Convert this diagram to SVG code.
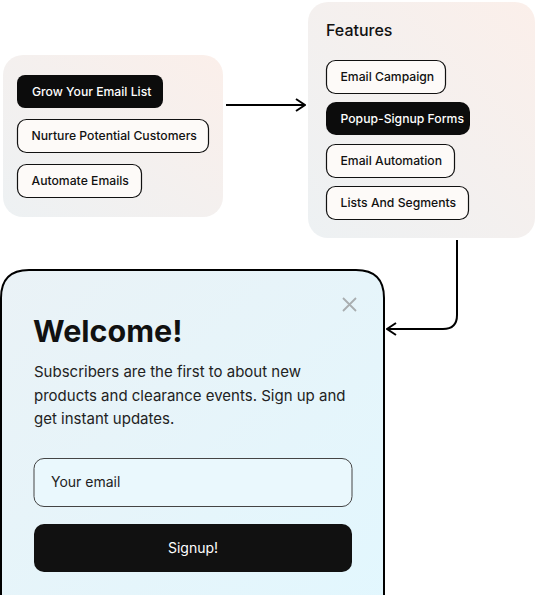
<svg xmlns="http://www.w3.org/2000/svg" width="537" height="595" viewBox="0 0 537 595">
<defs>
<linearGradient id="panelGrad" x1="1" y1="0" x2="0" y2="1">
<stop offset="0" stop-color="#fbefea"/>
<stop offset="1" stop-color="#edf1f3"/>
</linearGradient>
<linearGradient id="cardGrad" x1="0" y1="0" x2="1" y2="1">
<stop offset="0" stop-color="#eaf2f6"/>
<stop offset="1" stop-color="#e2f7fe"/>
</linearGradient>
<marker id="arrow" viewBox="0 0 12 14" refX="11" refY="7" markerWidth="12" markerHeight="14" markerUnits="userSpaceOnUse" orient="auto">
<path d="M2,1 L11,7 L2,13" fill="none" stroke="#000" stroke-width="2"/>
</marker>
<style>
text{font-family:Inter,"Liberation Sans",sans-serif;}
.chip{fill:#fdfaf8;stroke:#111;stroke-width:1.2;}
.chipDark{fill:#0c0c0c;}
.chipText{font-size:12.2px;font-weight:450;fill:#111;}
.chipTextDark{font-size:12.2px;font-weight:450;fill:#fff;}
.conn{fill:none;stroke:#000;stroke-width:2;}
.dots{stroke:#111;stroke-width:1.5;stroke-dasharray:2,2;}
</style>
</defs>
<rect width="537" height="595" fill="#fff"/>
<g id="connectors">
<line class="conn" x1="226" y1="105" x2="305" y2="105" marker-end="url(#arrow)"/>
<path class="conn" d="M457,240 L457,315 Q457,329 443,329 L387,329" marker-end="url(#arrow)"/>
<line class="dots" x1="30" y1="109" x2="30" y2="119"/>
<line class="dots" x1="31" y1="153" x2="31" y2="164"/>
</g>
<g id="goals">
<rect x="3" y="55" width="220" height="162" rx="20" fill="url(#panelGrad)"/>
<g id="goal-grow">
<rect class="chipDark" x="17" y="75" width="146" height="33" rx="8"/>
<text class="chipTextDark" x="32" y="96">Grow Your Email List</text>
</g>
<g id="goal-nurture">
<rect class="chip" x="17.5" y="119.5" width="191" height="33" rx="9"/>
<text class="chipText" x="31.5" y="140">Nurture Potential Customers</text>
</g>
<g id="goal-automate">
<rect class="chip" x="17.5" y="164.5" width="124" height="33" rx="9"/>
<text class="chipText" x="31.5" y="185">Automate Emails</text>
</g>
</g>
<g id="features">
<rect x="308" y="2" width="227" height="236" rx="20" fill="url(#panelGrad)"/>
<text x="326" y="36" font-size="16" font-weight="450" fill="#111">Features</text>
<g id="feat-campaign">
<rect class="chip" x="326.5" y="60.5" width="119" height="33" rx="9"/>
<text class="chipText" x="340.5" y="81">Email Campaign</text>
</g>
<g id="feat-popup">
<rect class="chipDark" x="326" y="102" width="144" height="33" rx="10" fill="#111"/>
<text class="chipTextDark" x="340.5" y="123">Popup-Signup Forms</text>
</g>
<g id="feat-automation">
<rect class="chip" x="326.5" y="144.5" width="128" height="33" rx="9"/>
<text class="chipText" x="340.5" y="165">Email Automation</text>
</g>
<g id="feat-lists">
<rect class="chip" x="326.5" y="186.5" width="142" height="33" rx="9"/>
<text class="chipText" x="340.5" y="207">Lists And Segments</text>
</g>
</g>
<g id="popup">
<path d="M1,620 L1,298 Q1,270 29,270 L356,270 Q384,270 384,298 L384,620" fill="url(#cardGrad)" stroke="#000" stroke-width="2"/>
<path d="M343,298 L356,311 M356,298 L343,311" stroke="#a9aeb0" stroke-width="1.8" fill="none"/>
<text x="33" y="342" font-size="30.5" font-weight="700" fill="#111">Welcome!</text>
<text font-size="15" fill="#222">
<tspan x="34" y="377">Subscribers are the first to about new</tspan>
<tspan x="34" y="401">products and clearance events. Sign up and</tspan>
<tspan x="34" y="424">get instant updates.</tspan>
</text>
<rect x="34" y="458.5" width="318" height="48" rx="10" fill="#eaf8fd" stroke="#444" stroke-width="1"/>
<text x="51" y="487" font-size="14" fill="#222">Your email</text>
<rect x="34" y="524" width="318" height="48" rx="10" fill="#111"/>
<text x="193" y="553" font-size="14" fill="#fff" text-anchor="middle">Signup!</text>
</g>
</svg>
